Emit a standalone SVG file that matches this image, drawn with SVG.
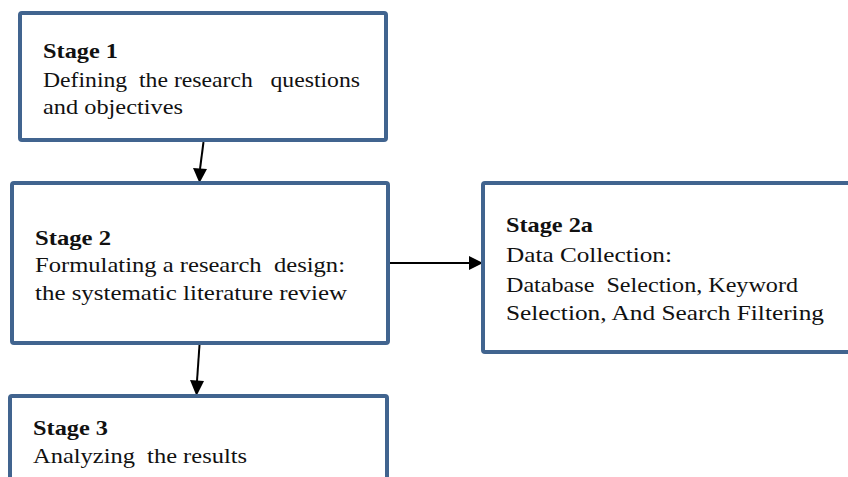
<svg xmlns="http://www.w3.org/2000/svg" width="848" height="477" viewBox="0 0 848 477">
<style>
.box{fill:#fff;stroke:#41648f;stroke-width:4}
.t{font-family:"Liberation Serif","Times New Roman",serif;font-size:21px;fill:#111}
.b{font-weight:bold;font-size:22px}
.c{stroke:#000;stroke-width:2;fill:none}
</style>
<rect width="848" height="477" fill="#fff"/>
<g id="connectors">
<path class="c" d="M203.5,142 L200,169"/>
<path d="M193,168 L207,169 L199.5,183 z" fill="#000"/>
<path class="c" d="M199.5,345 L197,381"/>
<path d="M190,380 L204,381 L196.5,396 z" fill="#000"/>
<path class="c" d="M388,263 L470,263"/>
<path d="M469,256 L483,263 L469,270 z" fill="#000"/>
</g>
<g id="stage1">
<rect class="box" x="20" y="13" width="366" height="127" rx="2"/>
<text class="t b" x="43" y="58" textLength="75" lengthAdjust="spacingAndGlyphs">Stage 1</text>
<text class="t" x="43" y="87" textLength="317" lengthAdjust="spacingAndGlyphs" xml:space="preserve">Defining  the research   questions</text>
<text class="t" x="43" y="114" textLength="140" lengthAdjust="spacingAndGlyphs">and objectives</text>
</g>
<g id="stage2">
<rect class="box" x="12" y="183" width="376" height="160" rx="2"/>
<text class="t b" x="35" y="245" textLength="76" lengthAdjust="spacingAndGlyphs">Stage 2</text>
<text class="t" x="35" y="272" textLength="310" lengthAdjust="spacingAndGlyphs" xml:space="preserve">Formulating a research  design:</text>
<text class="t" x="35" y="300" textLength="312" lengthAdjust="spacingAndGlyphs">the systematic literature review</text>
</g>
<g id="stage2a">
<rect class="box" x="483" y="183" width="372" height="169" rx="2"/>
<text class="t b" x="506" y="232" textLength="87" lengthAdjust="spacingAndGlyphs">Stage 2a</text>
<text class="t" x="506" y="262" textLength="166" lengthAdjust="spacingAndGlyphs">Data Collection:</text>
<text class="t" x="506" y="292" textLength="292" lengthAdjust="spacingAndGlyphs" xml:space="preserve">Database  Selection, Keyword</text>
<text class="t" x="506" y="320" textLength="318" lengthAdjust="spacingAndGlyphs">Selection, And Search Filtering</text>
</g>
<g id="stage3">
<rect class="box" x="10" y="396" width="377" height="100" rx="2"/>
<text class="t b" x="33" y="435" textLength="75" lengthAdjust="spacingAndGlyphs">Stage 3</text>
<text class="t" x="33" y="463" textLength="214" lengthAdjust="spacingAndGlyphs" xml:space="preserve">Analyzing  the results</text>
</g>
</svg>
